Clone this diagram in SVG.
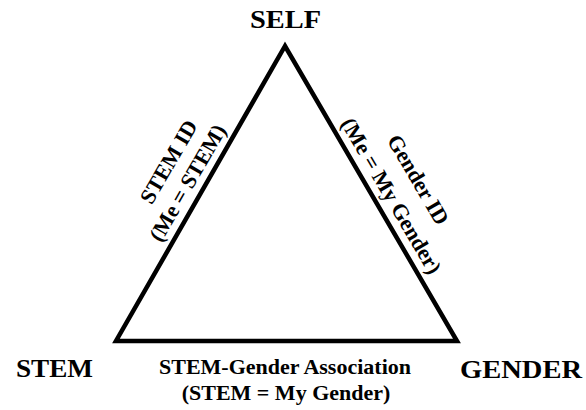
<svg xmlns="http://www.w3.org/2000/svg" width="586" height="410" viewBox="0 0 586 410">
  <style>
    .corner { font-family: "Liberation Serif", "Times New Roman", serif; font-weight: bold; font-size: 26px; fill: #000; }
    .edge-label { font-family: "Liberation Serif", "Times New Roman", serif; font-weight: bold; font-size: 22px; fill: #000; text-anchor: middle; }
    .edge { fill: none; stroke: #000; stroke-width: 4.5; stroke-linejoin: miter; }
  </style>
  <rect width="586" height="410" fill="#fff"/>

  <!-- corner nodes -->
  <g id="self">
    <text class="corner" x="250" y="28" textLength="71" lengthAdjust="spacingAndGlyphs">SELF</text>
  </g>
  <g id="stem">
    <text class="corner" x="16" y="377" textLength="77" lengthAdjust="spacingAndGlyphs">STEM</text>
  </g>
  <g id="gender">
    <text class="corner" x="460" y="378" textLength="122" lengthAdjust="spacingAndGlyphs">GENDER</text>
  </g>

  <!-- triangle edges and their labels -->
  <g id="connectors">
    <polygon class="edge" points="285,46 116,341 457,341"/>

    <g id="edge-self-stem">
      <text class="edge-label" transform="translate(175,165.5) rotate(-59.8)">STEM ID</text>
      <text class="edge-label" transform="translate(194,186.5) rotate(-59.8)">(Me = STEM)</text>
    </g>
    <g id="edge-self-gender">
      <text class="edge-label" transform="translate(412,183.5) rotate(59.6)">Gender ID</text>
      <text class="edge-label" transform="translate(385,199.5) rotate(59.6)">(Me = My Gender)</text>
    </g>
    <g id="edge-stem-gender">
      <text class="edge-label" x="285" y="374">STEM-Gender Association</text>
      <text class="edge-label" x="286" y="400">(STEM = My Gender)</text>
    </g>
  </g>
</svg>
